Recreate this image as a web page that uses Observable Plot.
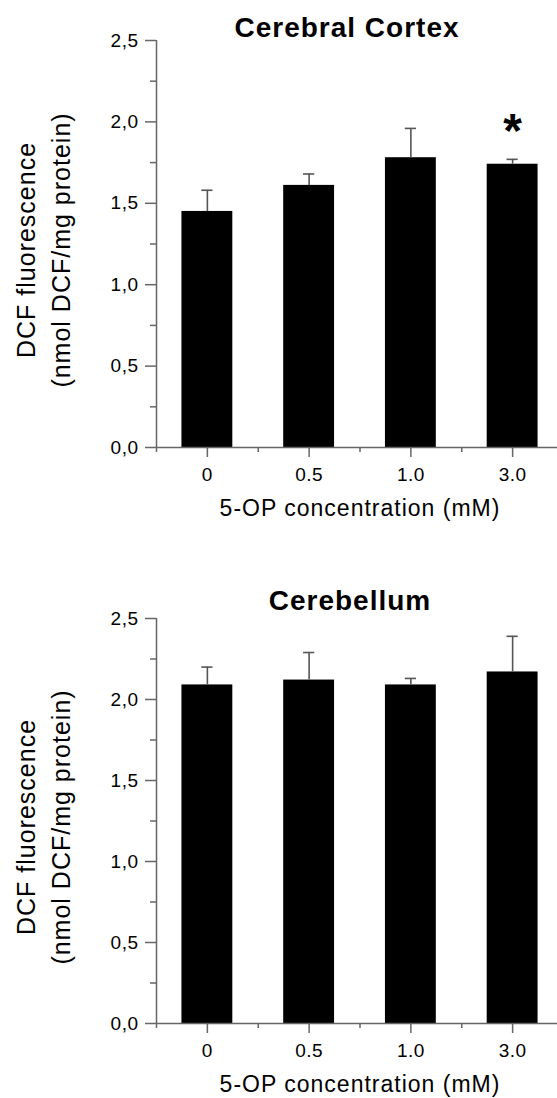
<!DOCTYPE html>
<html>
<head>
<meta charset="utf-8">
<script src="https://cdn.jsdelivr.net/npm/d3@7"></script>
<script src="https://cdn.jsdelivr.net/npm/@observablehq/plot@0.6"></script>
<style>
  html, body { margin: 0; padding: 0; background: #fff; overflow: hidden; }
  #charts svg { display: block; }
  g[aria-label="y-axis tick label"] text,
  g[aria-label="x-axis tick label"] text { letter-spacing: 0.5px; }
</style>
</head>
<body>
<div id="charts"></div>
<script>
// 5-OP concentrations (mM) on the x axis
const concentrations = ["0", "0.5", "1.0", "3.0"];

// Cerebral cortex: mean DCF fluorescence and error (SEM)
const cortexMean = [1.45, 1.61, 1.78, 1.74];
const cortexErr = [0.13, 0.07, 0.18, 0.03];
const cortexSig = ["", "", "", "*"];

// Cerebellum: mean DCF fluorescence and error (SEM)
const cerebellumMean = [2.09, 2.12, 2.09, 2.17];
const cerebellumErr = [0.11, 0.17, 0.04, 0.22];
const cerebellumSig = ["", "", "", ""];

// Axis ticks
const yMajorTicks = [0, 0.5, 1, 1.5, 2, 2.5];
const yMinorTicks = [0.25, 0.75, 1.25, 1.75, 2.25];
const xCenterTicks = [0, 1, 2, 3];
const xBoundaryTicks = [-0.5, 0.5, 1.5, 2.5, 3.5];

const xLabel = "5-OP concentration (mM)";
const yLabelLines = ["DCF fluorescence", "(nmol DCF/mg protein)"];

const FONT = "'Liberation Sans', Arial, Helvetica, sans-serif";
const AXIS = "#666";
const ERR = "#555";
const commaFormat = d => d.toFixed(1).replace(".", ",");

function panel({title, means, errs, sig, marginTop, marginBottom, titleDx, titleDy, height}) {
  const data = concentrations.map((c, i) => ({c, i, mean: means[i], err: errs[i], sig: sig[i]}));
  const upper = d => d.mean + d.err;
  const svg = Plot.plot({
    width: 557,
    height,
    marginLeft: 156,
    marginRight: -6,
    marginTop,
    marginBottom,
    style: {fontFamily: FONT, background: "#fff", color: "#000", overflow: "visible"},
    x: {domain: [-0.5, 3.5]},
    y: {domain: [0, 2.5]},
    marks: [
      // bars
      Plot.rectY(data, {x1: d => d.i - 0.25, x2: d => d.i + 0.25, y: "mean", fill: "#000"}),
      // error bars (upper whisker with cap)
      Plot.ruleX(data, {x: "i", y1: "mean", y2: upper, stroke: ERR, strokeWidth: 1.6}),
      Plot.ruleY(data, {y: upper, x1: d => d.i - 0.055, x2: d => d.i + 0.055, stroke: ERR, strokeWidth: 1.6}),
      // significance marker
      Plot.text(data, {x: "i", y: upper, text: "sig", dy: -12, lineAnchor: "bottom",
        fontSize: 48, fontWeight: "bold", fill: "#000"}),
      // axis lines
      Plot.ruleY([0], {stroke: AXIS, strokeWidth: 1.5}),
      Plot.ruleX([xBoundaryTicks[0]], {stroke: AXIS, strokeWidth: 1.5}),
      // y axis
      Plot.axisY(yMajorTicks, {tickSize: 11, tickPadding: 7, tickFormat: commaFormat,
        fontSize: 19, stroke: AXIS, strokeWidth: 1.5, fill: "#000", label: null}),
      Plot.axisY(yMinorTicks, {tickSize: 6, text: null, stroke: AXIS, strokeWidth: 1.5, label: null}),
      // x axis
      Plot.axisX(xCenterTicks, {tickSize: 10, tickPadding: 10, tickFormat: i => concentrations[i],
        fontSize: 19, stroke: AXIS, strokeWidth: 1.5, fill: "#000", label: null}),
      Plot.axisX(xBoundaryTicks, {tickSize: 5, text: null, stroke: AXIS, strokeWidth: 1.5, label: null}),
      // panel title
      Plot.text([title], {text: d => d, frameAnchor: "top", textAnchor: "middle", lineAnchor: "bottom",
        dx: titleDx, dy: titleDy, fontSize: 28, fontWeight: "bold", fill: "#000"}),
      // axis titles
      Plot.text([xLabel], {text: d => d, frameAnchor: "bottom", textAnchor: "middle", lineAnchor: "bottom",
        dy: 68, fontSize: 23, fill: "#000"}),
      Plot.text([yLabelLines[0]], {text: d => d, frameAnchor: "left", textAnchor: "middle", rotate: -90,
        lineAnchor: "middle", dx: -130, dy: 6, fontSize: 25, fill: "#000"}),
      Plot.text([yLabelLines[1]], {text: d => d, frameAnchor: "left", textAnchor: "middle", rotate: -90,
        lineAnchor: "middle", dx: -95, dy: 6, fontSize: 25, fill: "#000"})
    ]
  });
  // slightly wider tracking for the titles
  d3.select(svg).selectAll("text")
    .filter(function() {
      const t = this.textContent;
      return t === title || t === xLabel || yLabelLines.includes(t);
    })
    .style("letter-spacing", "1px");
  return svg;
}

const root = document.getElementById("charts");
root.append(panel({
  title: "Cerebral Cortex", means: cortexMean, errs: cortexErr, sig: cortexSig,
  height: 549, marginTop: 40, marginBottom: 102, titleDx: -13, titleDy: -4
}));
root.append(panel({
  title: "Cerebellum", means: cerebellumMean, errs: cerebellumErr, sig: cerebellumSig,
  height: 549, marginTop: 69, marginBottom: 75, titleDx: -10, titleDy: -9
}));
</script>
</body>
</html>
